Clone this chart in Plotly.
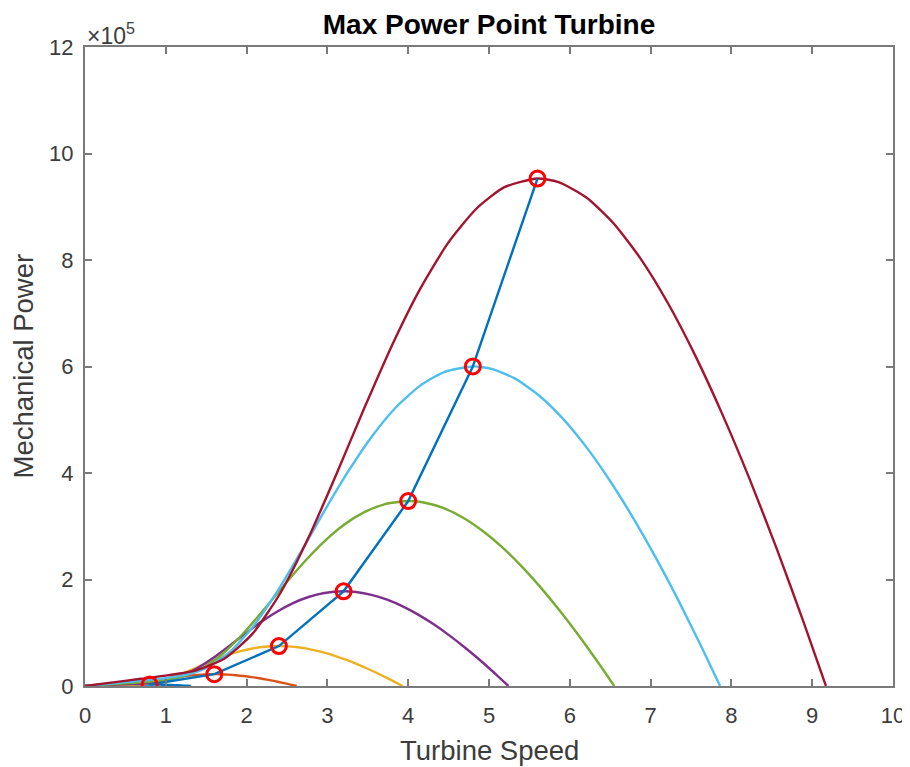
import plotly.graph_objects as go

# ---------------- data (mechanical power in units of 1e5) ----------------
SCALE = 1e5

speed_v1 = [0, 0.0494, 0.0987, 0.1481, 0.1976, 0.2469, 0.2963, 0.3457, 0.395, 0.4444, 0.4939, 0.5431,
            0.5926, 0.642, 0.6914, 0.7407, 0.8, 0.8384, 0.8866, 0.9347, 0.9829, 1.031, 1.079, 1.1271,
            1.1753, 1.2234, 1.2714, 1.31]
power_v1 = [0, 0.0002, 0.0004, 0.0006, 0.0009, 0.0015, 0.0029, 0.0051, 0.0081, 0.0116, 0.0152, 0.0187,
            0.0217, 0.0243, 0.0261, 0.0273, 0.0278, 0.0276, 0.0267, 0.0253, 0.0234, 0.0209, 0.0181, 0.0149,
            0.0113, 0.0075, 0.0034, 0]

speed_v2 = [0, 0.0989, 0.1974, 0.2963, 0.3951, 0.4937, 0.5926, 0.6914, 0.79, 0.8889, 0.9877, 1.0863,
            1.1851, 1.284, 1.3829, 1.4814, 1.6, 1.6769, 1.7731, 1.8694, 1.9657, 2.062, 2.158, 2.2543,
            2.3506, 2.4469, 2.5429, 2.62]
power_v2 = [0, 0.0016, 0.0031, 0.0048, 0.0070, 0.0121, 0.0229, 0.0408, 0.0649, 0.0928, 0.1218, 0.1494,
            0.1739, 0.1941, 0.2089, 0.2184, 0.2223, 0.2206, 0.2140, 0.2026, 0.1870, 0.1675, 0.1447, 0.1189,
            0.0905, 0.0599, 0.0273, 0]

speed_v3 = [0, 0.1483, 0.2961, 0.4444, 0.5927, 0.7406, 0.8889, 1.0371, 1.185, 1.3333, 1.4816, 1.6294,
            1.7777, 1.926, 2.0743, 2.2221, 2.4, 2.5153, 2.6597, 2.8041, 2.9486, 3.093, 3.237, 3.3814,
            3.5259, 3.6703, 3.8143, 3.93]
power_v3 = [0, 0.0054, 0.0106, 0.0161, 0.0236, 0.0408, 0.0774, 0.1378, 0.2190, 0.3131, 0.4109, 0.5042,
            0.5870, 0.6550, 0.7051, 0.7370, 0.7502, 0.7445, 0.7221, 0.6837, 0.6311, 0.5654, 0.4884, 0.4011,
            0.3054, 0.2021, 0.0922, 0]

speed_v4 = [0, 0.1977, 0.3949, 0.5926, 0.7903, 0.9874, 1.1851, 1.3829, 1.58, 1.7777, 1.9754, 2.1726,
            2.3703, 2.568, 2.7657, 2.9629, 3.2, 3.3537, 3.5463, 3.7389, 3.9314, 4.124, 4.316, 4.5086,
            4.7011, 4.8937, 5.0857, 5.24]
power_v4 = [0, 0.0127, 0.0252, 0.0381, 0.0560, 0.0967, 0.1834, 0.3267, 0.5191, 0.7421, 0.9740, 1.1951,
            1.3914, 1.5526, 1.6715, 1.7470, 1.7782, 1.7648, 1.7116, 1.6207, 1.4959, 1.3403, 1.1576, 0.9509,
            0.7240, 0.4790, 0.2185, 0]

speed_v5 = [0, 0.2471, 0.4936, 0.7407, 0.9879, 1.2343, 1.4814, 1.7286, 1.975, 2.2221, 2.4693, 2.7157,
            2.9629, 3.21, 3.4571, 3.7036, 4.0, 4.1921, 4.4329, 4.6736, 4.9143, 5.155, 5.395, 5.6357,
            5.8764, 6.1171, 6.3571, 6.55]
power_v5 = [0, 0.0248, 0.0492, 0.0743, 0.1093, 0.1888, 0.3582, 0.6381, 1.0138, 1.4493, 1.9023, 2.3342,
            2.7176, 3.0324, 3.2646, 3.4122, 3.4730, 3.4468, 3.3429, 3.1655, 2.9216, 2.6177, 2.2609, 1.8571,
            1.4140, 0.9355, 0.4267, 0]

speed_v6 = [0, 0.297, 0.592, 0.889, 1.185, 1.481, 1.778, 2.074, 2.370, 2.667, 2.963, 3.259,
            3.555, 3.852, 4.149, 4.444, 4.8, 5.031, 5.319, 5.608, 5.897, 6.186, 6.474, 6.763,
            7.052, 7.341, 7.629, 7.860]
power_v6 = [0, 0.0428, 0.0850, 0.1285, 0.1889, 0.3262, 0.6190, 1.1027, 1.7519, 2.5045, 3.2872, 4.0335,
            4.6960, 5.2401, 5.6412, 5.8962, 6.0014, 5.9561, 5.7766, 5.4699, 5.0486, 4.5234, 3.9069, 3.2091,
            2.4434, 1.6165, 0.7374, 0]

speed_v7 = [0, 0.346, 0.691, 1.037, 1.383, 1.728, 2.074, 2.420, 2.765, 3.111, 3.457, 3.802,
            4.148, 4.494, 4.840, 5.185, 5.6, 5.869, 6.206, 6.543, 6.880, 7.217, 7.553, 7.890,
            8.227, 8.564, 8.900, 9.170]
power_v7 = [0, 0.068, 0.135, 0.204, 0.300, 0.518, 0.983, 1.751, 2.782, 3.977, 5.220, 6.405,
            7.457, 8.321, 8.958, 9.363, 9.530, 9.458, 9.173, 8.686, 8.017, 7.183, 6.204, 5.096,
            3.880, 2.567, 1.171, 0]

max_speed = [0.8, 1.6, 2.4, 3.2, 4.0, 4.8, 5.6]
max_power = [0.0278, 0.2223, 0.7502, 1.7782, 3.4730, 6.0014, 9.53]

y_ticks = [0, 2, 4, 6, 8, 10, 12]
x_ticks = [0, 1, 2, 3, 4, 5, 6, 7, 8, 9, 10]

curve_colors = ["#0072BD", "#D95319", "#EDB120", "#7E2F8E", "#77AC30", "#4DBEEE", "#A2142F"]

curves = [(speed_v1, power_v1), (speed_v2, power_v2), (speed_v3, power_v3),
          (speed_v4, power_v4), (speed_v5, power_v5), (speed_v6, power_v6),
          (speed_v7, power_v7)]

FONT = "Liberation Sans, Arial, Helvetica, sans-serif"
AXIS_COLOR = "#7a7a7a"
TEXT_COLOR = "#3c3c3c"

# the page places the figure 8 px in from the top-left corner
FIG_W, FIG_H = 902, 759
M_L, M_R, M_T, M_B = 77, 17, 39, 81
PLOT_W = FIG_W - M_L - M_R
PLOT_H = FIG_H - M_T - M_B

fig = go.Figure()

for (xs, ys), col in zip(curves, curve_colors):
    fig.add_trace(go.Scatter(
        x=xs, y=[v * SCALE for v in ys], mode="lines",
        line=dict(color=col, width=2.4, shape="spline", smoothing=0.6),
        showlegend=False, hoverinfo="skip"))

fig.add_trace(go.Scatter(
    x=max_speed, y=[v * SCALE for v in max_power], mode="lines",
    line=dict(color="#0072BD", width=2.4), showlegend=False))

fig.add_trace(go.Scatter(
    x=max_speed, y=[v * SCALE for v in max_power], mode="markers",
    marker=dict(symbol="circle-open", size=15, color="#FF0000",
                line=dict(width=3, color="#FF0000")),
    showlegend=False))

fig.update_layout(
    width=FIG_W, height=FIG_H,
    margin=dict(l=M_L, r=M_R, t=M_T, b=M_B, autoexpand=False),
    paper_bgcolor="white", plot_bgcolor="white",
    font=dict(family=FONT, color=TEXT_COLOR),
    title=dict(text="<b>Max Power Point Turbine</b>", x=0.5, xref="paper", xanchor="center",
               y=1 - 16 / FIG_H, yref="container", yanchor="middle",
               font=dict(family=FONT, size=28, color="#000000")),
    xaxis=dict(range=[0, 10], tickvals=x_ticks, ticktext=[str(t) for t in x_ticks],
               ticks="inside", ticklen=7, tickwidth=1.5, tickcolor=AXIS_COLOR,
               showline=True, linecolor=AXIS_COLOR, linewidth=2, mirror="ticks",
               showgrid=False, zeroline=False, automargin=False, ticklabelstandoff=9,
               tickfont=dict(size=22, color=TEXT_COLOR)),
    yaxis=dict(range=[0, 12 * SCALE], tickvals=[t * SCALE for t in y_ticks],
               ticktext=[str(t) for t in y_ticks],
               ticks="inside", ticklen=7, tickwidth=1.5, tickcolor=AXIS_COLOR,
               showline=True, linecolor=AXIS_COLOR, linewidth=2, mirror="ticks",
               showgrid=False, zeroline=False, automargin=False, ticklabelstandoff=5,
               tickfont=dict(size=22, color=TEXT_COLOR)),
    annotations=[
        dict(text="\u00d710<sup>5</sup>", xref="paper", yref="paper",
             x=0, y=1, xanchor="left", yanchor="bottom", showarrow=False,
             xshift=0, yshift=-4,
             font=dict(family=FONT, size=23, color=TEXT_COLOR)),
        dict(text="Turbine Speed", xref="paper", yref="paper",
             x=0.5, y=-64 / PLOT_H, xanchor="center", yanchor="middle",
             showarrow=False, font=dict(family=FONT, size=27.5, color=TEXT_COLOR)),
        dict(text="Mechanical Power", xref="paper", yref="paper", textangle=-90,
             x=-62 / PLOT_W, y=0.5, xanchor="center", yanchor="middle",
             showarrow=False, font=dict(family=FONT, size=27.5, color=TEXT_COLOR)),
    ],
)

fig.write_html("out.html")
